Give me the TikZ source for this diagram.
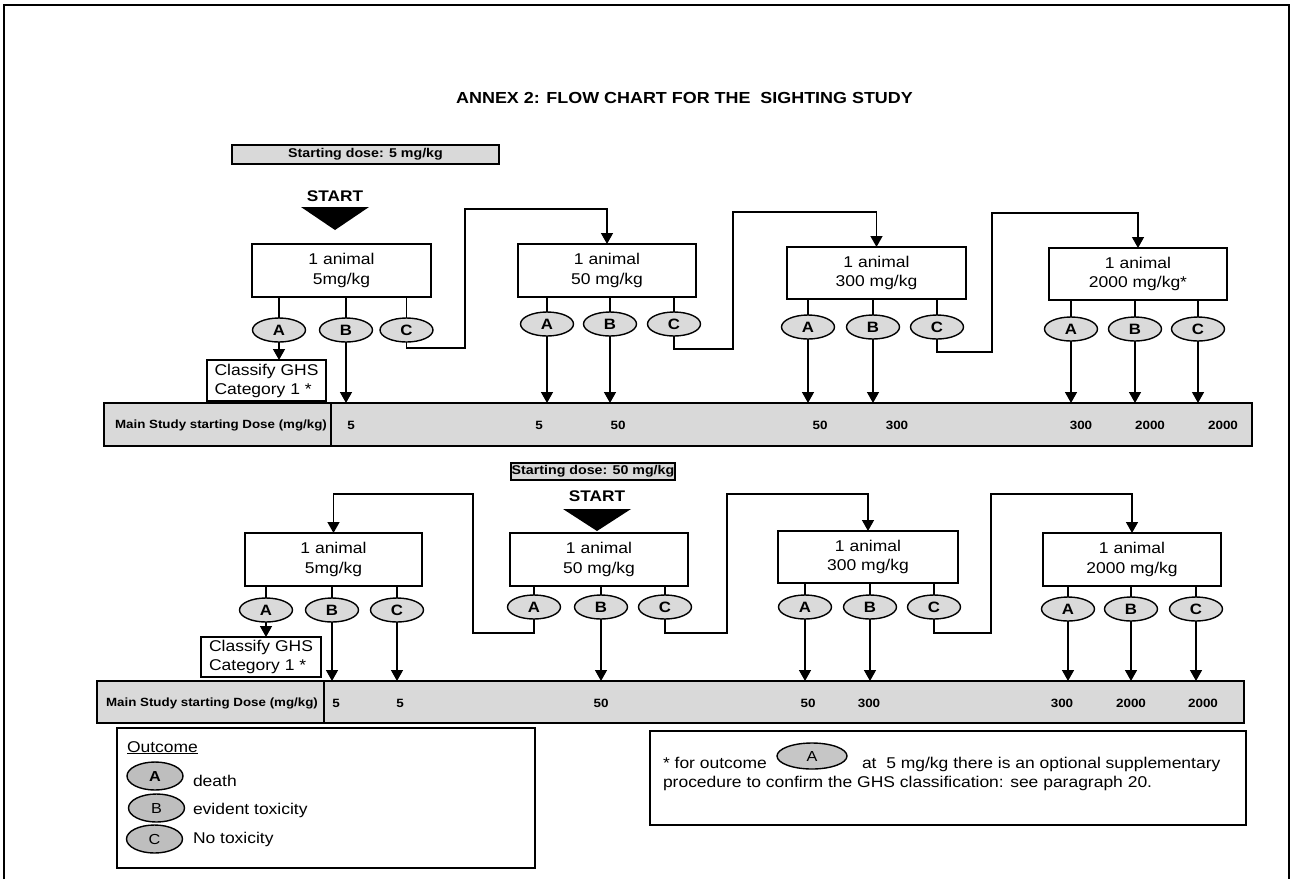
\documentclass[tikz,border=0pt]{standalone}
\usepackage{fontspec}
\setmainfont{Liberation Sans}[FakeStretch=1.12]
\usetikzlibrary{shapes.geometric,arrows.meta}
\definecolor{ellfill}{HTML}{DADADA}
\definecolor{barfill}{HTML}{D9D9D9}
\definecolor{legfill}{HTML}{BEBEBE}
\definecolor{footfill}{HTML}{C6C6C6}
\begin{document}
\begin{tikzpicture}[x=1pt,y=-1pt,
  lw/.style={line width=1.4pt},
  every node/.style={inner sep=0pt, outer sep=0pt},
  animalbox/.style={draw, lw, minimum width=178pt, minimum height=53pt, align=center, font=\fontsize{15.6}{19.5}\selectfont},
  outc/.style={draw, ellipse, lw, fill=ellfill, minimum width=53pt, minimum height=24pt, font=\fontsize{15}{15}\selectfont\bfseries},
  legell/.style={draw, ellipse, lw, fill=legfill, minimum width=56pt, minimum height=28pt, font=\fontsize{14.5}{14.5}\selectfont},
  classbox/.style={draw, lw, align=left, minimum width=119pt, minimum height=41pt, font=\fontsize{15.6}{19}\selectfont},
  bar/.style={draw, lw, fill=barfill, minimum width=1148pt, minimum height=43pt},
  barlbl/.style={font=\fontsize{11.9}{11.9}\selectfont\bfseries},
  barval/.style={font=\fontsize{12}{12}\selectfont\bfseries},
  dosebox/.style={draw, lw, fill=barfill, font=\fontsize{12.7}{12.7}\selectfont\bfseries},
  starttxt/.style={font=\fontsize{15.4}{15.4}\selectfont\bfseries},
  titletxt/.style={font=\fontsize{16}{16}\selectfont\bfseries},
  plain/.style={font=\fontsize{15.6}{19}\selectfont},
  link/.style={lw},
  arr/.style={lw, -{Triangle[length=11pt,width=12pt]}}
]
\useasboundingbox (0,0) rectangle (1295,879);
% outer frame
\draw[line width=2pt] (4,879) -- (4,5) -- (1289,5) -- (1289,879);

% title
\node[titletxt] (title) at (684.5,97.5) {ANNEX 2: FLOW CHART FOR THE\ \ SIGHTING STUDY};

% ================= ROW 1 =================
\node[dosebox, minimum width=267pt, minimum height=19pt] (sd1) at (365.5,154.5) {Starting dose: 5 mg/kg};
\node[starttxt] (st1) at (335,196) {START};
\fill (301,207) -- (369,207) -- (335,230) -- cycle;

\node[animalbox, minimum width=179pt] (b11) at (341.5,270.5) {1 animal\\5mg/kg};
\node[animalbox] (b12) at (607,270.5) {1 animal\\50 mg/kg};
\node[animalbox, minimum width=179pt, minimum height=52pt] (b13) at (876.5,273) {1 animal\\300 mg/kg};
\node[animalbox, minimum height=52pt] (b14) at (1138,274) {1 animal\\2000 mg/kg*};

\node[outc] (a11) at (279,330) {A};
\node[outc] (e11) at (346,330) {B};
\node[outc] (c11) at (406.5,330) {C};
\node[outc] (a12) at (547,324) {A};
\node[outc] (e12) at (610,324) {B};
\node[outc] (c12) at (674,324) {C};
\node[outc] (a13) at (808,327) {A};
\node[outc] (e13) at (873,327) {B};
\node[outc] (c13) at (937,327) {C};
\node[outc] (a14) at (1071,329) {A};
\node[outc] (e14) at (1135,329) {B};
\node[outc] (c14) at (1198,329) {C};

\foreach \b/\e in {b11/a11,b11/e11,b11/c11,b12/a12,b12/e12,b12/c12,b13/a13,b13/e13,b13/c13,b14/a14,b14/e14,b14/c14}
  \draw[link] (\e.north |- \b.south) -- (\e.north);

\node[classbox] (cl1) at (266.5,380.5) {Classify GHS\\Category 1 *};
\draw[arr] (a11.south) -- (a11.south |- cl1.north);

\node[bar] (bar1) at (678,424.5) {};
\coordinate (dv1) at (331,424.5);
\draw[link] (dv1 |- bar1.north) -- (dv1 |- bar1.south);
\node[barlbl] (bl1) at (221,425.5) {Main Study starting Dose (mg/kg)};
\foreach \x/\v [count=\i] in {351/5,539/5,618/50,820/50,897/300,1081/300,1150/2000,1223/2000}
  \node[barval] (v1\i) at (\x,425.5) {\v};

\foreach \e in {e11,a12,e12,a13,e13,a14,e14,c14}
  \draw[arr] (\e.south) -- (\e.south |- bar1.north);

\coordinate (p1a) at (465,348); \coordinate (p1b) at (465,209);
\draw[arr] (c11.south) |- (p1a) -- (p1b) -| (b12.north);
\coordinate (p2a) at (733,349); \coordinate (p2b) at (733,212);
\draw[arr] (c12.south) |- (p2a) -- (p2b) -| (b13.north);
\coordinate (p3a) at (992,352); \coordinate (p3b) at (992,213);
\draw[arr] (c13.south) |- (p3a) -- (p3b) -| (b14.north);

% ================= ROW 2 =================
\node[dosebox, minimum width=164pt, minimum height=17pt] (sd2) at (593,471.5) {Starting dose: 50 mg/kg};
\node[starttxt] (st2) at (597,496) {START};
\fill (563,509) -- (631,509) -- (597,531) -- cycle;

\node[animalbox, minimum width=177pt] (b21) at (333.5,559.5) {1 animal\\5mg/kg};
\node[animalbox] (b22) at (599,559.5) {1 animal\\50 mg/kg};
\node[animalbox, minimum width=180pt, minimum height=52pt] (b23) at (868,557) {1 animal\\300 mg/kg};
\node[animalbox] (b24) at (1132,559.5) {1 animal\\2000 mg/kg};

\node[outc] (a21) at (266,610) {A};
\node[outc] (e21) at (332,610) {B};
\node[outc] (c21) at (397,610) {C};
\node[outc] (a22) at (534,607) {A};
\node[outc] (e22) at (601,607) {B};
\node[outc] (c22) at (665,607) {C};
\node[outc] (a23) at (805,607) {A};
\node[outc] (e23) at (870,607) {B};
\node[outc] (c23) at (934,607) {C};
\node[outc] (a24) at (1068,609) {A};
\node[outc] (e24) at (1131,609) {B};
\node[outc] (c24) at (1196,609) {C};

\foreach \b/\e in {b21/a21,b21/e21,b21/c21,b22/a22,b22/e22,b22/c22,b23/a23,b23/e23,b23/c23,b24/a24,b24/e24,b24/c24}
  \draw[link] (\e.north |- \b.south) -- (\e.north);

\node[classbox, minimum width=120pt, minimum height=40pt] (cl2) at (261,657) {Classify GHS\\Category 1 *};
\draw[arr] (a21.south) -- (a21.south |- cl2.north);

\node[bar, minimum width=1147pt, minimum height=42pt] (bar2) at (670.5,702) {};
\coordinate (dv2) at (324,702);
\draw[link] (dv2 |- bar2.north) -- (dv2 |- bar2.south);
\node[barlbl] (bl2) at (212,703) {Main Study starting Dose (mg/kg)};
\foreach \x/\v [count=\i] in {336/5,400/5,601/50,808/50,869/300,1062/300,1131/2000,1203/2000}
  \node[barval] (v2\i) at (\x,703) {\v};

\foreach \e in {e21,c21,e22,a23,e23,a24,e24,c24}
  \draw[arr] (\e.south) -- (\e.south |- bar2.north);

\coordinate (q1a) at (473,633); \coordinate (q1b) at (473,494);
\draw[arr] (a22.south) |- (q1a) -- (q1b) -| (b21.north);
\coordinate (q2a) at (727,633); \coordinate (q2b) at (727,494);
\draw[arr] (c22.south) |- (q2a) -- (q2b) -| (b23.north);
\coordinate (q3a) at (991,633); \coordinate (q3b) at (991,494);
\draw[arr] (c23.south) |- (q3a) -- (q3b) -| (b24.north);

% ================= LEGEND =================
\node[draw, lw, minimum width=418pt, minimum height=140pt] (leg) at (326,798) {};
\node[plain, anchor=base west] (lout) at (127,752) {\underline{Outcome}};
\node[legell, font=\fontsize{14.5}{14.5}\selectfont\bfseries] (la) at (155,776) {A};
\node[legell] (lb) at (156.5,808) {B};
\node[legell] (lc) at (154.5,839) {C};
\node[plain, anchor=base west] (lta) at (193,786) {death};
\node[plain, anchor=base west] (ltb) at (193,814) {evident toxicity};
\node[plain, anchor=base west] (ltc) at (193,843) {No toxicity};

% ================= FOOTNOTE =================
\node[draw, lw, minimum width=596pt, minimum height=94pt] (foot) at (948,778) {};
\node[plain, anchor=base west] (f1) at (663,768) {* for outcome};
\node[draw, ellipse, lw, fill=footfill, minimum width=70pt, minimum height=26pt, font=\fontsize{14.5}{14.5}\selectfont] (fa) at (812,756) {A};
\node[plain, anchor=base west] (f2) at (862,768) {at\ \ 5 mg/kg there is an optional supplementary};
\node[plain, anchor=base west] (f3) at (663,787) {procedure to confirm the GHS classification: see paragraph 20.};
\end{tikzpicture}
\end{document}
